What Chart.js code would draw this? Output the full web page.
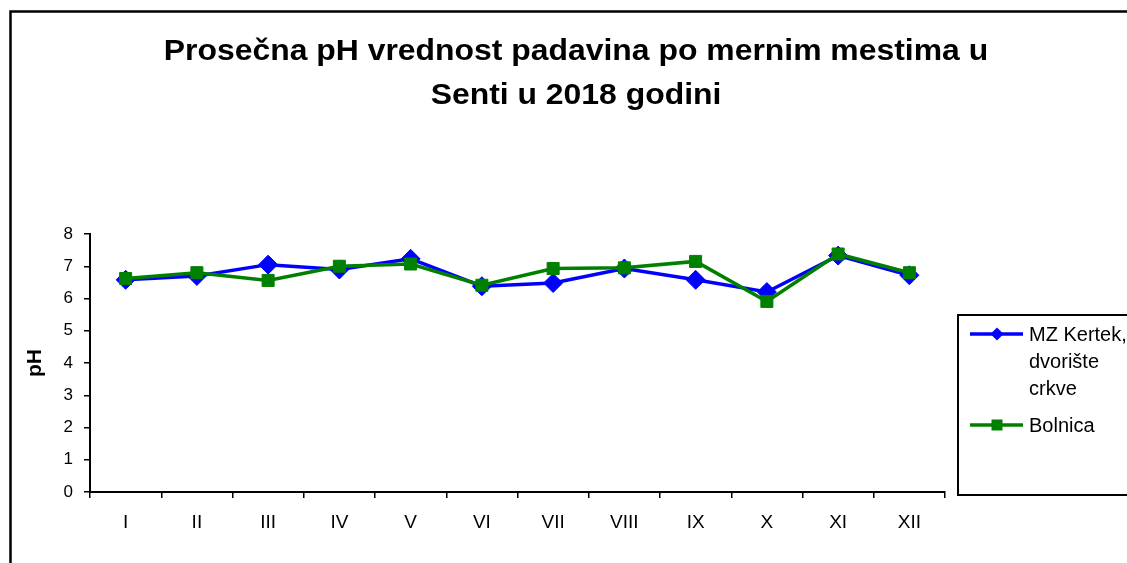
<!DOCTYPE html>
<html>
<head>
<meta charset="utf-8">
<script src="https://cdn.jsdelivr.net/npm/chart.js@4/dist/chart.umd.min.js"></script>
<style>
  html, body { margin: 0; padding: 0; background: #ffffff; }
  #wrap { width: 1127px; height: 563px; }
</style>
</head>
<body>
<div id="wrap"><canvas id="c" width="1127" height="563"></canvas></div>
<script>
// ---- data ----
const categories = ['I', 'II', 'III', 'IV', 'V', 'VI', 'VII', 'VIII', 'IX', 'X', 'XI', 'XII'];
const kertekValues = [6.58, 6.70, 7.05, 6.90, 7.23, 6.38, 6.48, 6.93, 6.58, 6.20, 7.33, 6.72];
const bolnicaValues = [6.62, 6.80, 6.56, 7.00, 7.07, 6.41, 6.93, 6.95, 7.15, 5.91, 7.38, 6.80];
const seriesNames = ['MZ Kertek, dvorište crkve', 'Bolnica'];
const titleLines = ['Prosečna pH vrednost padavina po mernim mestima u', 'Senti u 2018 godini'];
const yTicks = [0, 1, 2, 3, 4, 5, 6, 7, 8];
const yAxisTitle = 'pH';

const FONT = '"Liberation Sans", Arial, Helvetica, sans-serif';

const framePlugin = {
  id: 'frame',
  beforeDraw(chart) {
    const ctx = chart.ctx;
    ctx.save();
    ctx.fillStyle = '#ffffff';
    ctx.fillRect(0, 0, chart.width, chart.height);
    ctx.strokeStyle = '#000000';
    ctx.lineWidth = 2.5;
    ctx.strokeRect(10.5, 11.5, 1200, 700);
    ctx.restore();
  }
};

const titlePlugin = {
  id: 'manualTitle',
  afterDraw(chart) {
    const ctx = chart.ctx;
    ctx.save();
    ctx.fillStyle = '#000000';
    ctx.font = 'bold 29px ' + FONT;
    ctx.textAlign = 'center';
    ctx.textBaseline = 'middle';
    ctx.translate(576, 0);
    ctx.scale(1.1, 1);
    titleLines.forEach((t, i) => ctx.fillText(t, 0, 52 + i * 44));
    ctx.restore();
  }
};

function wrapText(ctx, text, maxW) {
  const words = text.split(' ');
  const lines = [];
  let cur = '';
  words.forEach(w => {
    const test = cur ? cur + ' ' + w : w;
    if (ctx.measureText(test).width > maxW && cur) { lines.push(cur); cur = w; }
    else cur = test;
  });
  if (cur) lines.push(cur);
  return lines;
}

const legendPlugin = {
  id: 'boxLegend',
  afterDraw(chart) {
    const ctx = chart.ctx;
    ctx.save();
    ctx.strokeStyle = '#000000';
    ctx.lineWidth = 2;
    ctx.strokeRect(958, 315, 400, 180);
    ctx.font = '20px ' + FONT;
    ctx.textBaseline = 'middle';
    ctx.textAlign = 'left';
    let y = 334;
    chart.data.datasets.forEach((ds, i) => {
      const lines = wrapText(ctx, ds.label, 110);
      ctx.strokeStyle = ds.borderColor;
      ctx.lineWidth = 3.5;
      ctx.beginPath();
      ctx.moveTo(970, y);
      ctx.lineTo(1023, y);
      ctx.stroke();
      ctx.fillStyle = ds.borderColor;
      ctx.beginPath();
      if (ds.pointStyle === 'rectRot') {
        ctx.moveTo(997, y - 6.5); ctx.lineTo(1003.5, y); ctx.lineTo(997, y + 6.5); ctx.lineTo(990.5, y);
        ctx.closePath();
      } else {
        ctx.rect(991.5, y - 5.5, 11, 11);
      }
      ctx.fill();
      ctx.fillStyle = '#000000';
      lines.forEach((l, k) => ctx.fillText(l, 1029, y + 1 + k * 27));
      y += (lines.length - 1) * 27 + 37;
    });
    ctx.restore();
  }
};

const ctx = document.getElementById('c').getContext('2d');
new Chart(ctx, {
  type: 'line',
  data: {
    labels: categories,
    datasets: [
      {
        label: seriesNames[0],
        data: kertekValues,
        borderColor: '#0000FF',
        backgroundColor: '#0000FF',
        borderWidth: 3.5,
        pointStyle: 'rectRot',
        pointRadius: 9.5,
        pointBorderWidth: 1,
        tension: 0,
        order: 1
      },
      {
        label: seriesNames[1],
        data: bolnicaValues,
        borderColor: '#008000',
        backgroundColor: '#008000',
        borderWidth: 3.5,
        pointStyle: 'rect',
        pointRadius: 8.5,
        pointBorderWidth: 1,
        tension: 0,
        order: 0
      }
    ]
  },
  options: {
    responsive: false,
    animation: false,
    devicePixelRatio: 1,
    layout: { padding: { left: 10, right: 182, top: 234, bottom: 0 } },
    plugins: {
      legend: { display: false },
      title: { display: false },
      tooltip: { enabled: false }
    },
    scales: {
      x: {
        type: 'category',
        offset: true,
        grid: { display: true, offset: true, drawOnChartArea: false, drawTicks: true, tickLength: 6, color: '#000000', lineWidth: 1.5 },
        border: { display: true, color: '#000000', width: 2 },
        ticks: { color: '#000000', font: { family: FONT, size: 19 }, padding: 13, maxRotation: 0, autoSkip: false },
        afterFit(scale) { scale.height = 71; }
      },
      y: {
        min: 0,
        max: 8,
        afterBuildTicks(scale) { scale.ticks = yTicks.map(v => ({ value: v })); },
        grid: { display: true, drawOnChartArea: false, drawTicks: true, tickLength: 6, color: '#000000', lineWidth: 1.5 },
        border: { display: true, color: '#000000', width: 2 },
        ticks: { color: '#000000', font: { family: FONT, size: 17 }, padding: 11 },
        title: { display: true, text: yAxisTitle, color: '#000000', font: { family: FONT, size: 21, weight: 'bold' }, padding: { top: 13, bottom: 0 } },
        afterFit(scale) { scale.width = 80; }
      }
    }
  },
  plugins: [framePlugin, titlePlugin, legendPlugin]
});
</script>
</body>
</html>
